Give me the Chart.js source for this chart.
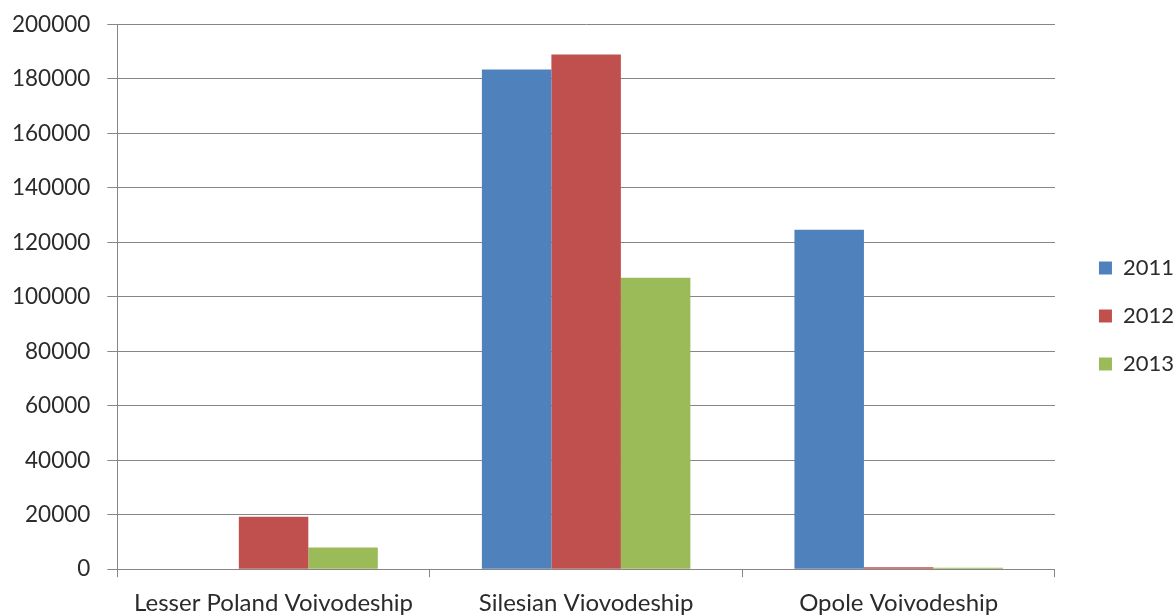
<!DOCTYPE html>
<html>
<head>
<meta charset="utf-8">
<script src="https://cdn.jsdelivr.net/npm/chart.js@4"></script>
<style>
html,body{margin:0;padding:0;background:#fff;}
#wrap{width:1173px;height:615px;}
</style>
</head>
<body>
<div id="wrap"><canvas id="c" width="1173" height="615"></canvas></div>
<script>
const categories = ["Lesser Poland Voivodeship", "Silesian Viovodeship", "Opole Voivodeship"];
const seriesNames = ["2011", "2012", "2013"];
const values2011 = [0, 183500, 124600];
const values2012 = [19300, 189000, 700];
const values2013 = [8000, 107000, 500];
const colors = ["#4F81BD", "#C0504D", "#9BBB59"];
const yTicks = [0, 20000, 40000, 60000, 80000, 100000, 120000, 140000, 160000, 180000, 200000];

const FONT = "Lato, 'Open Sans', sans-serif";
const TEXT = '#2b2b2b';
const GRID = '#868686';
const allSeries = [values2011, values2012, values2013];

new Chart(document.getElementById('c'), {
  type: 'bar',
  data: {
    labels: categories,
    datasets: seriesNames.map((n, i) => ({
      label: n,
      data: allSeries[i],
      backgroundColor: colors[i],
      borderWidth: 0,
      categoryPercentage: 0.667,
      barPercentage: 1.0
    }))
  },
  options: {
    responsive: false,
    animation: false,
    devicePixelRatio: 1,
    layout: { padding: { top: 2, right: -11, left: -5, bottom: -15 } },
    plugins: {
      legend: {
        position: 'right',
        align: 'center',
        labels: {
          boxWidth: 13, boxHeight: 13,
          padding: 26,
          color: TEXT,
          font: { family: FONT, size: 22 }
        }
      },
      tooltip: { enabled: false }
    },
    scales: {
      x: {
        offset: true,
        grid: { offset: true, drawOnChartArea: false, drawTicks: true, tickLength: 8, color: GRID, lineWidth: 1 },
        border: { display: true, color: GRID, width: 1 },
        ticks: { color: TEXT, font: { family: FONT, size: 24 }, padding: 12, maxRotation: 0, autoSkip: false }
      },
      y: {
        min: 0, max: 200000,
        afterBuildTicks: (axis) => { axis.ticks = yTicks.map(v => ({ value: v })); },
        afterFit: (scale) => { scale.paddingTop = 24.5; scale.paddingBottom = 0; },
        grid: { color: GRID, lineWidth: 1, drawTicks: true, tickLength: 10 },
        border: { display: true, color: GRID, width: 1 },
        ticks: { color: TEXT, font: { family: FONT, size: 22.5 }, padding: 17, callback: v => String(v) }
      },
      gap: {
        position: 'right',
        display: true,
        min: 0, max: 1,
        grid: { display: false, drawTicks: false },
        border: { display: false },
        ticks: { display: false },
        afterFit: (scale) => { scale.width = 18; scale.paddingTop = 0; scale.paddingBottom = 0; }
      }
    }
  }
});
</script>
</body>
</html>
